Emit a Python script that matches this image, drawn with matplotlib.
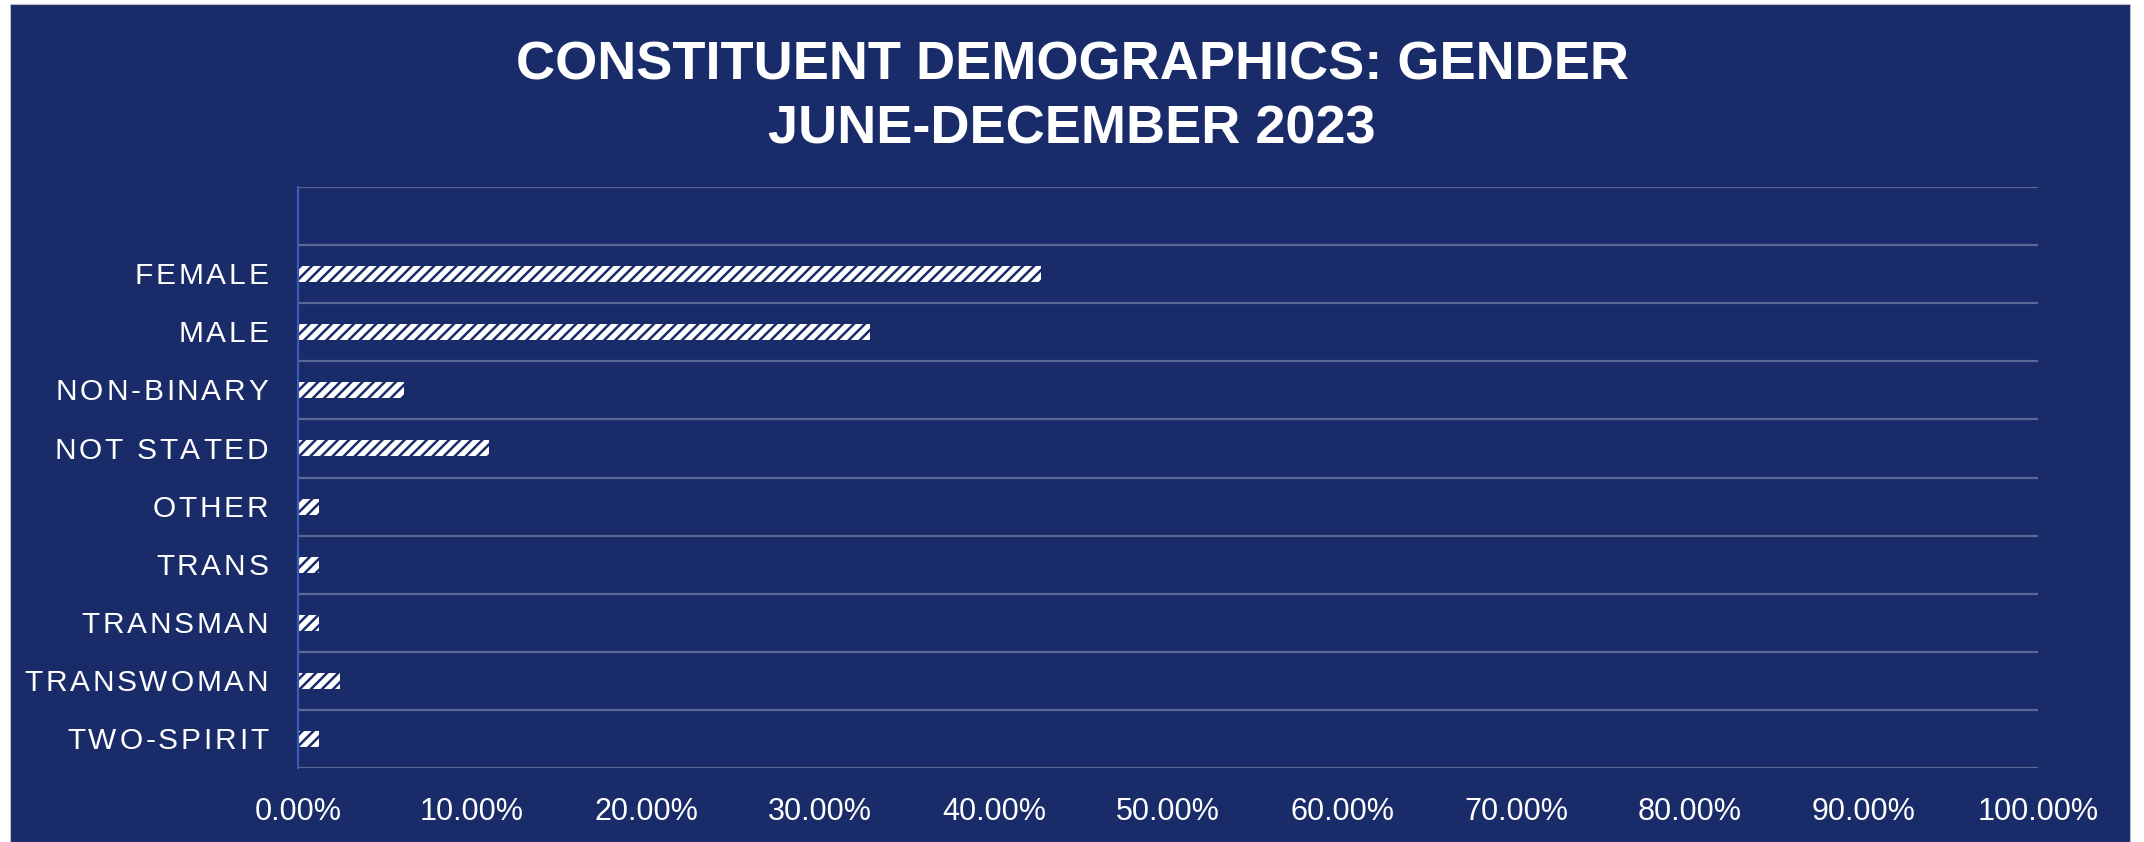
import matplotlib
matplotlib.use("Agg")
import matplotlib.pyplot as plt
from matplotlib import font_manager
from matplotlib.ft2font import FT2Font, LoadFlags
from matplotlib.transforms import offset_copy
from matplotlib.patches import Rectangle
from matplotlib.ticker import FuncFormatter, FixedLocator

# ---- data -------------------------------------------------------------
categories = ["FEMALE", "MALE", "NON-BINARY", "NOT STATED", "OTHER",
              "TRANS", "TRANSMAN", "TRANSWOMAN", "TWO-SPIRIT"]
shares = [42.7, 32.9, 6.1, 11.0, 1.2, 1.2, 1.2, 2.4, 1.2]   # percent
x_ticks = [0, 10, 20, 30, 40, 50, 60, 70, 80, 90, 100]
title_lines = ["CONSTITUENT DEMOGRAPHICS: GENDER", "JUNE-DECEMBER 2023"]

# ---- style ------------------------------------------------------------
NAVY = "#192b69"
GRID = "#5a6994"
SPINE = "#3a5cb8"
FONT = "Liberation Sans"
LABEL_SIZE = 21.5
TICK_SIZE = 22
TITLE_SIZE = 39
LETTER_SPACING = 2.0     # extra points between letters of category labels

plt.rcParams["hatch.linewidth"] = 1.8

W, H, DPI = 2144, 842, 100
fig = plt.figure(figsize=(W / DPI, H / DPI), dpi=DPI, facecolor="white")

# navy panel behind everything
fig.patches.append(Rectangle((10 / W, 0), (2130 - 10) / W, (H - 4) / H,
                             transform=fig.transFigure, facecolor=NAVY,
                             edgecolor="#b8bcc8", linewidth=0.8, zorder=-5))

ax = fig.add_axes([298 / W, 1 - 768 / H, (2038 - 298) / W, (768 - 187) / H])
ax.set_facecolor("none")
ax.set_zorder(2)

n = len(categories)
ypos = list(range(n))
ax.barh(ypos, shares, height=0.275, facecolor="white", edgecolor=NAVY,
        linewidth=0, hatch="///", zorder=3)

ax.set_xlim(0, 100)
ax.set_ylim(n - 0.5, -1.5)

# gridlines between category slots
bounds = [i - 0.5 for i in range(-1, n + 1)]
ax.yaxis.set_minor_locator(FixedLocator(bounds))
ax.yaxis.set_major_locator(FixedLocator(ypos))
ax.grid(True, which="minor", axis="y", color=GRID, linewidth=1.6, zorder=1)
ax.tick_params(axis="y", which="both", length=0, labelleft=False)

ax.xaxis.set_major_locator(FixedLocator(x_ticks))
ax.xaxis.set_major_formatter(FuncFormatter(lambda v, p: f"{v:.2f}%"))
ax.tick_params(axis="x", length=0, pad=21, labelsize=TICK_SIZE,
               labelcolor="white")
for lab in ax.get_xticklabels():
    lab.set_fontfamily(FONT)

for side in ("top", "right", "bottom"):
    ax.spines[side].set_visible(False)
ax.spines["left"].set_color(SPINE)
ax.spines["left"].set_linewidth(1.6)
ax.spines["left"].set_zorder(4)

# ---- letter-spaced category labels -------------------------------------
fp = font_manager.FontProperties(family=FONT, size=LABEL_SIZE)
font = FT2Font(font_manager.findfont(fp))
font.set_size(LABEL_SIZE, 72)


def advance(ch):
    g = font.load_char(ord(ch), flags=LoadFlags.NO_HINTING)
    return g.linearHoriAdvance / 65536.0


base = ax.get_yaxis_transform()
right_pad = 21.5   # points from the axis line to the end of the label
for y, label in zip(ypos, categories):
    advs = [advance(c) for c in label]
    total = sum(advs) + LETTER_SPACING * (len(label) - 1)
    pen = -right_pad - total
    for c, a in zip(label, advs):
        tr = offset_copy(base, fig=fig, x=pen + a / 2, y=-7.3, units="points")
        ax.text(0, y, c, transform=tr, ha="center", va="baseline",
                fontproperties=fp, color="white", clip_on=False)
        pen += a + LETTER_SPACING

# ---- title --------------------------------------------------------------
fig.text(0.5, 1 - 79 / H, title_lines[0], ha="center", va="baseline",
         family=FONT, weight="bold", size=TITLE_SIZE, color="white")
fig.text(0.5, 1 - 143 / H, title_lines[1], ha="center", va="baseline",
         family=FONT, weight="bold", size=TITLE_SIZE, color="white")

fig.savefig("out.png", dpi=DPI, facecolor="white")
